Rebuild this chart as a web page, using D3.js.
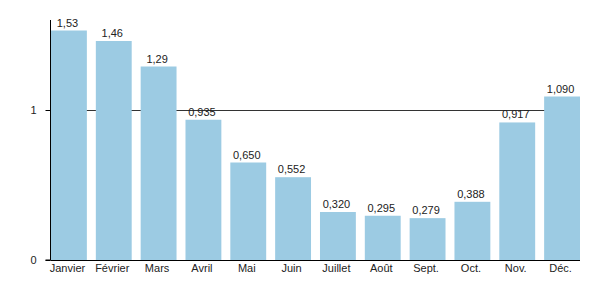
<!DOCTYPE html>
<html lang="fr">
<head>
    <meta charset="UTF-8">
    <script src="https://d3js.org/d3.v7.min.js"></script>
    <title>Mois</title>
    <style>
        body { margin: 0; background: white; }
        text { font-family: "Liberation Sans", Arial, sans-serif; font-size: 11px; fill: #222; }
    </style>
</head>
<body>
    <div id="chart"></div>
    <script>
        // data
        const months = ["Janvier", "Février", "Mars", "Avril", "Mai", "Juin",
                        "Juillet", "Août", "Sept.", "Oct.", "Nov.", "Déc."];
        const values = [1.53, 1.46, 1.29, 0.935, 0.650, 0.552,
                        0.320, 0.295, 0.279, 0.388, 0.917, 1.090];
        const valueLabels = ["1,53", "1,46", "1,29", "0,935", "0,650", "0,552",
                             "0,320", "0,295", "0,279", "0,388", "0,917", "1,090"];
        const yTicks = [0, 1];

        const width = 600, height = 300;
        const mLeft = 50.5, mRight = 580, mTop = 20, mBottom = 260;

        const svg = d3.select("#chart").append("svg")
            .attr("width", width)
            .attr("height", height);

        const x = d3.scaleBand()
            .domain(months)
            .range([mLeft + 0.5, mRight])
            .paddingInner(0.2)
            .paddingOuter(0);

        const y = d3.scaleLinear()
            .domain([0, 1.6])
            .range([mBottom, mTop]);

        // grid line at 1 (behind bars)
        svg.selectAll(".grid")
            .data(yTicks.filter(d => d > 0))
            .enter().append("line")
            .attr("x1", mLeft).attr("x2", mRight)
            .attr("y1", d => Math.round(y(d)) + 0.5)
            .attr("y2", d => Math.round(y(d)) + 0.5)
            .attr("stroke", "#333").attr("stroke-width", 1);

        svg.selectAll("rect")
            .data(values)
            .enter().append("rect")
            .attr("x", (d, i) => x(months[i]))
            .attr("width", x.bandwidth())
            .attr("y", d => y(d))
            .attr("height", d => mBottom - y(d))
            .attr("fill", "#9ccbe3");

        svg.selectAll(".val")
            .data(values)
            .enter().append("text")
            .attr("class", "val")
            .attr("x", (d, i) => x(months[i]) + x.bandwidth() / 2 - 1.5)
            .attr("y", d => y(d) - 4)
            .attr("text-anchor", "middle")
            .text((d, i) => valueLabels[i]);

        // y axis
        const yAxis = d3.axisLeft(y).tickValues(yTicks).tickSize(5).tickPadding(9)
            .tickFormat(d => d);
        svg.append("g")
            .attr("transform", `translate(${mLeft},0)`)
            .call(yAxis)
            .call(g => g.selectAll("text").style("font-size", "11px"))
            .call(g => g.select(".domain").attr("d", `M-5,${mBottom}H0V${mTop}`).attr("stroke", "#000"));

        // x axis
        const xAxis = d3.axisBottom(x).tickSize(0).tickPadding(4);
        svg.append("g")
            .attr("transform", `translate(0,${mBottom})`)
            .call(xAxis)
            .call(g => g.selectAll("text").style("font-size", "11px").attr("x", -1.5))
            .call(g => g.select(".domain").attr("d", `M${mLeft},0.5H${mRight}`).attr("stroke", "#000"));
    </script>
</body>
</html>
